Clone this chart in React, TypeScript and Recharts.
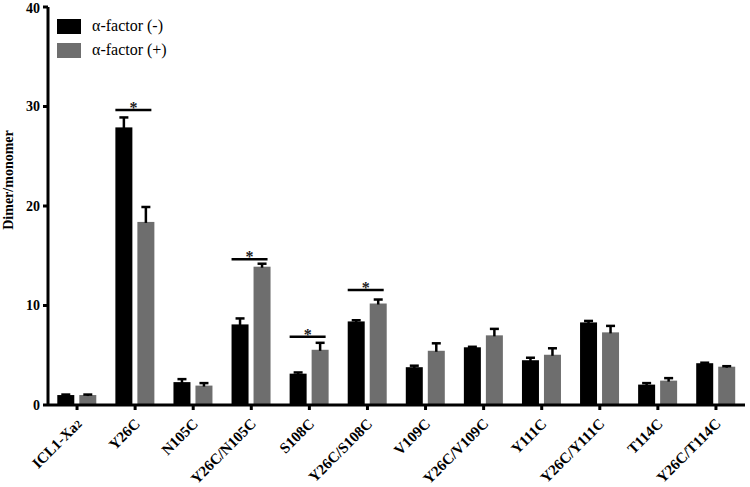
import React from "react"
import { Bar, BarChart, LabelList, XAxis, YAxis } from "recharts"

const categories = [
  "ICL1-Xa2", "Y26C", "N105C", "Y26C/N105C", "S108C", "Y26C/S108C",
  "V109C", "Y26C/V109C", "Y111C", "Y26C/Y111C", "T114C", "Y26C/T114C",
]
const minusValues = [1.0, 27.9, 2.3, 8.1, 3.15, 8.4, 3.8, 5.8, 4.5, 8.3, 2.05, 4.2]
const minusErrors = [0.05, 1.0, 0.3, 0.6, 0.12, 0.12, 0.15, 0.05, 0.25, 0.15, 0.15, 0.05]
const plusValues = [1.0, 18.4, 1.95, 13.9, 5.55, 10.2, 5.45, 7.0, 5.05, 7.3, 2.45, 3.85]
const plusErrors = [0.05, 1.5, 0.25, 0.3, 0.7, 0.4, 0.75, 0.65, 0.65, 0.65, 0.25, 0.05]
const sigLevels = [null, 29.65, null, 14.64, 6.86, 11.56, null, null, null, null, null, null]
const yTicks = [0, 10, 20, 30, 40]

const data = categories.map((name, i) => ({
  name,
  minus: minusValues[i],
  minusErr: minusErrors[i],
  plus: plusValues[i],
  plusErr: plusErrors[i],
  sig: sigLevels[i],
}))

const FONT = "'Liberation Serif', 'Times New Roman', serif"
const GRAY = "#6e6e6e"

function XTick(props: any) {
  const { x, y, payload } = props
  const label: string = payload.value
  const sub = label.endsWith("Xa2")
  return (
    <g transform={`translate(${x + 2},${y + 9}) rotate(-45)`}>
      <text textAnchor="end" dy="0.35em" fontFamily={FONT} fontWeight="bold" fontSize={15} fill="#000">
        {sub ? (
          <>
            {label.slice(0, -1)}
            <tspan fontSize={11}>2</tspan>
          </>
        ) : (
          label
        )}
      </text>
    </g>
  )
}

// bar with an upward-only error whisker (GraphPad style)
function barWithError(errKey: string) {
  return (props: any) => {
    const { x, y, width, height, fill, payload, value } = props
    const v = Array.isArray(value) ? value[1] - value[0] : value
    const ppu = v ? height / v : 0
    const top = y - payload[errKey] * ppu
    const cx = x + width / 2
    return (
      <g>
        <rect x={x} y={y} width={width} height={height} fill={fill} />
        <line x1={cx} x2={cx} y1={y + 1} y2={top} stroke="#000" strokeWidth={2.5} />
        <line x1={cx - 4.5} x2={cx + 4.5} y1={top} y2={top} stroke="#000" strokeWidth={2.5} />
      </g>
    )
  }
}

function SigMark(props: any) {
  const { x, y, width, height, value, index } = props
  if (value == null) return null
  const ppu = height / plusValues[index]
  const ly = y - (value - plusValues[index]) * ppu
  const x0 = x - 22
  const x1 = x + width - 3
  return (
    <g>
      <line x1={x0} x2={x1} y1={ly} y2={ly} stroke="#000" strokeWidth={2.5} />
      <text x={(x0 + x1) / 2} y={ly + 3} textAnchor="middle" fontFamily={FONT} fontWeight="bold" fontSize={16} fill="#222">
        *
      </text>
    </g>
  )
}

function LegendBox() {
  const rows = [
    { label: "α-factor (-)", color: "#000" },
    { label: "α-factor (+)", color: GRAY },
  ]
  return (
    <div style={{ position: "absolute", left: 57, top: 14, fontFamily: FONT, fontSize: 16 }}>
      {rows.map((r) => (
        <div key={r.label} style={{ display: "flex", alignItems: "center", height: 24 }}>
          <span style={{ width: 24, height: 15, background: r.color, display: "inline-block", marginRight: 11 }} />
          <span>{r.label}</span>
        </div>
      ))}
    </div>
  )
}

export default function App() {
  return (
    <div style={{ position: "absolute", left: 0, top: 0, width: 750, height: 487, background: "#fff" }}>
      <BarChart
        width={750}
        height={487}
        data={data}
        margin={{ top: 7, right: 5, left: 0, bottom: 0 }}
        barCategoryGap="16%"
        barGap={5}
      >
        <XAxis
          dataKey="name"
          height={82}
          interval={0}
          tick={<XTick />}
          tickSize={5}
          axisLine={{ stroke: "#000", strokeWidth: 3 }}
          tickLine={{ stroke: "#000", strokeWidth: 3 }}
        />
        <XAxis xAxisId="top" orientation="top" dataKey="name" height={0} tick={false} tickLine={false} axisLine={{ stroke: "#000", strokeWidth: 3 }} />
        <YAxis
          width={48}
          domain={[0, 40]}
          ticks={yTicks}
          tickSize={5}
          tickMargin={3}
          tick={{ fontFamily: FONT, fontWeight: "bold", fontSize: 14, fill: "#000" }}
          axisLine={{ stroke: "#000", strokeWidth: 3 }}
          tickLine={{ stroke: "#000", strokeWidth: 3 }}
          label={{
            value: "Dimer/monomer",
            angle: -90,
            position: "insideLeft",
            offset: 8,
            dy: -26,
            style: { fontFamily: FONT, fontWeight: "bold", fontSize: 14, fill: "#000", textAnchor: "middle" },
          }}
        />
        <YAxis yAxisId="right" orientation="right" width={0} tick={false} tickLine={false} axisLine={{ stroke: "#000", strokeWidth: 3 }} />
        <Bar dataKey="minus" fill="#000" isAnimationActive={false} shape={barWithError("minusErr")} />
        <Bar dataKey="plus" fill={GRAY} isAnimationActive={false} shape={barWithError("plusErr")}>
          <LabelList dataKey="sig" content={<SigMark />} />
        </Bar>
      </BarChart>
      <LegendBox />
    </div>
  )
}
